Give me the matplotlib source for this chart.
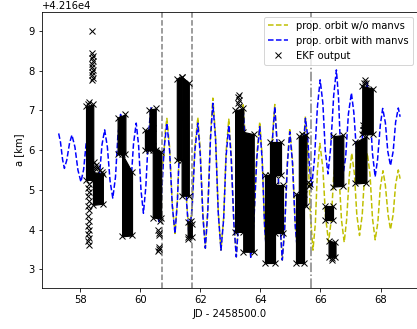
import numpy as np
import matplotlib
matplotlib.use("Agg")
from matplotlib import pyplot as plt

# semi-major axis values are stored relative to this base [km]
A0 = 42160.0

# ------------------  propagated orbit, with manoeuvres  ------------------ #
blue_t = [57.29, 57.35, 57.42, 57.48, 57.56, 57.65, 57.73, 57.83, 57.93,
          58.03, 58.12, 58.20, 58.29, 58.38, 58.47, 58.56, 58.65, 58.73,
          58.82, 58.91, 59.00, 59.09, 59.18, 59.26, 59.35, 59.43, 59.52,
          59.60, 59.69, 59.78, 59.87, 59.95, 60.03, 60.11, 60.19, 60.28,
          60.36, 60.45, 60.53, 60.62, 60.71, 60.80, 60.89, 60.98, 61.07,
          61.16, 61.24, 61.32, 61.40, 61.48, 61.55, 61.63, 61.73, 61.82,
          61.92, 62.00, 62.09, 62.17, 62.25, 62.34, 62.42, 62.51, 62.60,
          62.69, 62.78, 62.86, 62.95, 63.03, 63.12, 63.20, 63.28, 63.35,
          63.43, 63.51, 63.60, 63.68, 63.78, 63.88, 63.98, 64.06, 64.14,
          64.22, 64.31, 64.39, 64.48, 64.56, 64.65, 64.73, 64.81, 64.90,
          64.98, 65.07, 65.16, 65.25, 65.33, 65.42, 65.50, 65.57, 65.64,
          65.71, 65.80, 65.90, 65.99, 66.08, 66.16, 66.25, 66.34, 66.44,
          66.53, 66.60, 66.67, 66.74, 66.84, 66.93, 67.03, 67.11, 67.20,
          67.28, 67.37, 67.46, 67.55, 67.64, 67.73, 67.82, 67.90, 67.99,
          68.07, 68.16, 68.24, 68.33, 68.42, 68.50, 68.59, 68.65]
blue_a = [6.42, 6.20, 5.76, 5.54, 5.75, 6.17, 6.38, 6.08, 5.50,
          5.20, 5.51, 6.14, 6.45, 6.09, 5.36, 5.00, 5.38, 6.13,
          6.51, 6.08, 5.22, 4.79, 5.32, 6.37, 6.90, 6.33, 5.18,
          4.60, 5.12, 6.16, 6.68, 6.11, 4.98, 4.41, 5.08, 6.41,
          7.08, 6.36, 4.92, 4.20, 4.82, 6.06, 6.68, 5.99, 4.60,
          3.90, 4.70, 6.30, 7.10, 6.28, 4.64, 3.82, 4.54, 5.97,
          6.68, 5.89, 4.32, 3.53, 4.44, 6.27, 7.18, 6.26, 4.41,
          3.48, 4.27, 5.84, 6.63, 5.80, 4.14, 3.31, 4.24, 6.09,
          7.02, 6.09, 4.23, 3.30, 4.12, 5.77, 6.59, 5.76, 4.09,
          3.25, 4.21, 6.13, 7.09, 6.13, 4.20, 3.23, 4.04, 5.65,
          6.46, 5.67, 4.10, 3.31, 4.18, 5.93, 6.80, 6.38, 5.53,
          5.10, 5.77, 7.10, 7.77, 7.18, 5.99, 5.40, 6.06, 7.37,
          8.02, 7.34, 5.98, 5.30, 5.84, 6.91, 7.44, 6.95, 5.96,
          5.46, 6.02, 7.14, 7.70, 7.11, 5.92, 5.33, 5.76, 6.62,
          7.05, 6.69, 5.97, 5.61, 5.97, 6.70, 7.06, 6.84]

# ----------------  propagated orbit, without manoeuvres  ---------------- #
yel_t = [60.74, 60.79, 60.84, 60.89, 60.98, 61.07, 61.16, 61.24, 61.32,
         61.40, 61.48, 61.55, 61.63, 61.73, 61.82, 61.92, 62.00, 62.09,
         62.17, 62.25, 62.34, 62.42, 62.51, 62.60, 62.69, 62.78, 62.86,
         62.95, 63.03, 63.12, 63.20, 63.28, 63.35, 63.43, 63.51, 63.60,
         63.68, 63.78, 63.88, 63.98, 64.06, 64.14, 64.22, 64.31, 64.39,
         64.48, 64.56, 64.65, 64.73, 64.81, 64.90, 64.98, 65.07, 65.16,
         65.25, 65.33, 65.42, 65.50, 65.58, 65.67, 65.75, 65.83, 65.90,
         65.98, 66.08, 66.17, 66.27, 66.36, 66.44, 66.53, 66.62, 66.70,
         66.79, 66.87, 66.96, 67.04, 67.13, 67.21, 67.30, 67.39, 67.47,
         67.56, 67.65, 67.73, 67.82, 67.91, 67.99, 68.08, 68.16, 68.25,
         68.33, 68.42, 68.50, 68.59, 68.65]
yel_a = [5.60, 5.90, 6.50, 6.80, 6.08, 4.63, 3.90, 4.73, 6.38,
         7.20, 6.36, 4.67, 3.82, 4.57, 6.07, 6.82, 6.00, 4.35,
         3.53, 4.48, 6.37, 7.31, 6.35, 4.44, 3.48, 4.31, 5.96,
         6.78, 5.91, 4.18, 3.31, 4.27, 6.18, 7.14, 6.18, 4.26,
         3.30, 4.15, 5.86, 6.71, 5.85, 4.12, 3.25, 4.23, 6.18,
         7.15, 6.17, 4.21, 3.23, 4.06, 5.72, 6.55, 5.74, 4.12,
         3.31, 4.20, 5.97, 6.85, 6.01, 4.32, 3.48, 4.15, 5.50,
         6.17, 5.55, 4.31, 3.69, 4.24, 5.35, 5.90, 5.35, 4.24,
         3.68, 4.24, 5.36, 5.92, 5.40, 4.37, 3.85, 4.37, 5.40,
         5.92, 5.38, 4.29, 3.74, 4.18, 5.05, 5.48, 5.11, 4.37,
         4.00, 4.38, 5.13, 5.50, 5.28]

# ------------------  EKF output: dense passes (envelopes)  ------------------ #
pass_t0 = [58.20, 58.43, 59.25, 59.40, 60.16, 60.31, 60.42, 61.22, 61.38,
           61.58, 63.16, 63.43, 64.31, 64.17, 64.50, 65.28, 65.18, 66.43,
           66.15, 66.27, 67.16, 67.39]
pass_t1 = [58.44, 58.76, 59.51, 59.73, 60.42, 60.52, 60.70, 61.38, 61.62,
           61.72, 63.43, 63.78, 64.70, 64.48, 64.76, 65.53, 65.45, 66.76,
           66.43, 66.50, 67.53, 67.74]
pass_lo0 = [5.25, 4.62, 5.90, 3.83, 6.00, 6.00, 4.30, 5.75, 4.85,
            3.80, 3.94, 3.44, 5.37, 3.15, 3.90, 4.60, 3.15, 5.08,
            4.24, 3.30, 5.16, 6.40]
pass_lo1 = [5.25, 4.65, 5.90, 3.85, 6.00, 6.00, 4.28, 5.75, 4.85,
            3.80, 3.94, 3.44, 5.37, 3.15, 3.90, 4.60, 3.15, 5.10,
            4.24, 3.30, 5.18, 6.40]
pass_hi0 = [7.10, 5.45, 6.82, 5.90, 6.50, 7.02, 6.10, 7.80, 7.85,
            4.20, 7.00, 6.46, 6.21, 5.37, 5.12, 6.35, 4.90, 6.35,
            4.60, 3.72, 6.20, 7.62]
pass_hi1 = [7.15, 5.40, 6.90, 5.45, 6.55, 7.05, 5.95, 7.85, 7.70,
            4.15, 7.05, 6.40, 6.21, 5.37, 5.12, 6.38, 4.90, 6.38,
            4.60, 3.68, 6.35, 7.55]

# ------------------  EKF output: isolated estimates  ------------------ #
ekf_t = [58.40, 58.31, 58.28,
         58.41, 58.42, 58.40, 58.42, 58.41, 58.40, 58.42, 58.41, 58.40, 58.42, 58.41,
         58.29, 58.27, 58.30, 58.28, 58.29, 58.27, 58.29, 58.28, 58.29, 58.27,
         58.29, 58.28, 58.29, 58.27, 58.29,
         58.47, 58.52, 58.58, 58.66, 58.72, 58.49,
         60.61, 60.63, 60.62, 60.62, 60.63, 60.61, 60.66,
         61.60, 61.70,
         63.26, 63.28, 63.30, 63.27, 63.29,
         65.40, 65.45, 65.60, 65.66, 65.63,
         66.38, 66.40,
         67.48, 67.50, 67.46, 67.44, 67.41, 67.40]
ekf_a = [9.00, 7.22, 7.15,
         8.45, 8.38, 8.31, 8.24, 8.17, 8.10, 8.03, 7.96, 7.89, 7.82, 7.76,
         5.15, 5.05, 4.95, 4.85, 4.72, 4.60, 4.48, 4.35, 4.22, 4.10,
         3.98, 3.88, 3.78, 3.70, 3.62,
         5.70, 5.62, 5.55, 5.50, 5.45, 5.55,
         3.98, 3.92, 3.87, 3.57, 3.51, 3.47, 4.22,
         3.76, 4.22,
         7.35, 7.40, 7.25, 7.18, 7.10,
         6.40, 6.35, 5.20, 5.15, 5.10,
         3.22, 3.28,
         7.76, 7.69, 7.70, 6.55, 6.62, 6.50]

# manoeuvre epochs
manv_dash = [60.73, 61.73]
manv_dashdot = 65.69


fig = plt.figure(figsize=(417 / 72, 329 / 72), dpi=72)
ax = fig.add_axes([0.100, 0.1237, 0.902, 0.8407])

ax.plot(yel_t, A0 + np.array(yel_a), "y--", label="prop. orbit w/o manvs")
ax.plot(blue_t, A0 + np.array(blue_a), "b--", label="prop. orbit with manvs")

# dense EKF passes: solid black blocks, crosses on the corners
for i in range(len(pass_t0)):
    tt = [pass_t0[i], pass_t1[i]]
    lo = A0 + np.array([pass_lo0[i], pass_lo1[i]])
    hi = A0 + np.array([pass_hi0[i], pass_hi1[i]])
    ax.fill_between(tt, lo, hi, color="k", lw=1.2, zorder=3)
    ax.plot(tt + tt, np.concatenate([lo, hi]), "kx", zorder=3)

ax.plot(ekf_t, A0 + np.array(ekf_a), "kx", label="EKF output", zorder=3)

for t in manv_dash:
    ax.axvline(t, color="gray", ls="--")
ax.axvline(manv_dashdot, color="gray", ls="-.")

ax.set_xlim(56.725, 69.24)
ax.set_ylim(A0 + 2.519, A0 + 9.486)
ax.set_xlabel("JD - 2458500.0")
ax.set_ylabel("a [km]")
ax.legend(loc="upper right")

fig.savefig("out.png", dpi=72)
